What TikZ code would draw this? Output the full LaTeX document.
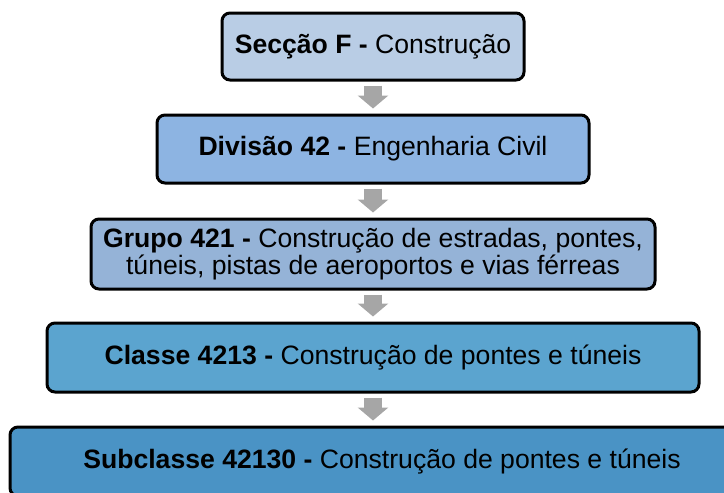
\documentclass[tikz,border=0pt]{standalone}
\usepackage{fontspec}
\setmainfont{Liberation Sans}
\usetikzlibrary{arrows.meta}
\definecolor{nivelA}{RGB}{185,205,229}
\definecolor{nivelB}{RGB}{141,180,226}
\definecolor{nivelC}{RGB}{149,179,215}
\definecolor{nivelD}{RGB}{91,164,207}
\definecolor{nivelE}{RGB}{74,147,197}
\definecolor{seta}{RGB}{166,166,166}
\begin{document}
\begin{tikzpicture}[x=0.5pt,y=-0.5pt,
            caixa/.style={draw=black,line width=1.5pt,rounded corners=4pt,align=center,
                          font=\fontsize{13.3}{12.6}\selectfont,inner sep=0pt},
            desce/.style={seta,line width=9pt,-{Triangle[width=15pt,length=6.5pt]},
                          shorten <=2pt,shorten >=2.5pt}]
             \useasboundingbox (0,0) rectangle (724,493);
             \node[caixa,fill=nivelA,minimum width=151pt,minimum height=33.5pt] (seccao)    at (373,46.5)
                  {\textbf{Secção F -} Construção};
             \node[caixa,fill=nivelB,minimum width=216pt,minimum height=34pt]   (divisao)   at (373,149)
                  {\textbf{Divisão 42 -} Engenharia Civil};
             \node[caixa,fill=nivelC,minimum width=282pt,minimum height=35pt]   (grupo)     at (373,254)
                  {\textbf{Grupo 421 -} Construção de estradas, pontes,\\túneis, pistas de aeroportos e vias férreas};
             \node[caixa,fill=nivelD,minimum width=326pt,minimum height=34.5pt] (classe)    at (373,357.5)
                  {\textbf{Classe 4213 -} Construção de pontes e túneis};
             \node[caixa,fill=nivelE,minimum width=372pt,minimum height=34.5pt] (subclasse) at (382,461.5)
                  {\textbf{Subclasse 42130 -} Construção de pontes e túneis};
             % setas entre niveis
             \draw[desce] (seccao)  -- (divisao);
             \draw[desce] (divisao) -- (grupo);
             \draw[desce] (grupo)   -- (classe);
             \draw[desce] (classe)  -- (subclasse.north -| classe.south);
        \end{tikzpicture}
\end{document}
